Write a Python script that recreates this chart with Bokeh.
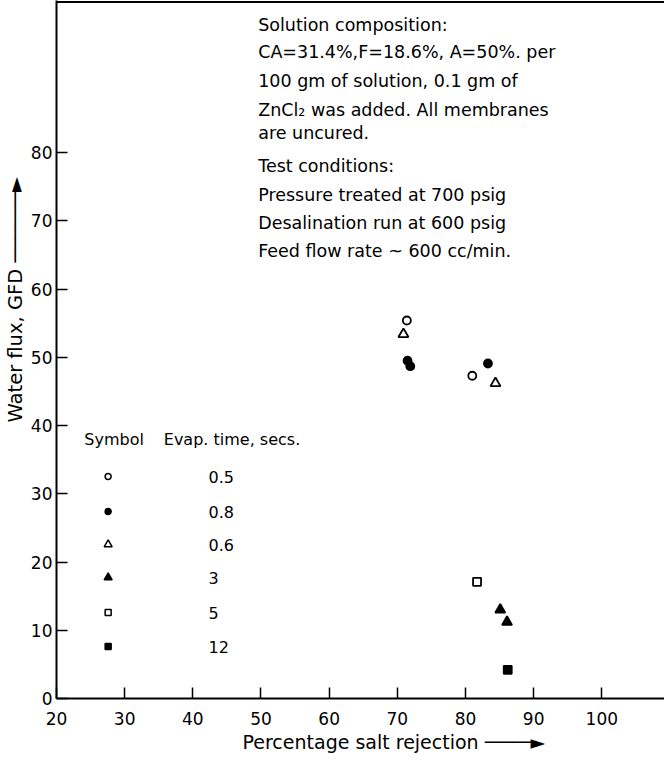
from bokeh.plotting import figure
from bokeh.models import Range1d, FixedTicker, Span, Title
from bokeh.embed import file_html
from bokeh.resources import INLINE
from bokeh.core.properties import value

FONT = "DejaVu Sans"

# ---------------- data ----------------
evap_labels = ["0.5", "0.8", "0.6", "3", "5", "12"]
marker_types = ["circle", "circle", "triangle", "triangle", "square", "square"]
marker_filled = [False, True, False, True, False, True]

rej_05 = [71.4, 81.0]
flux_05 = [55.4, 47.3]
rej_08 = [71.5, 71.9, 83.3]
flux_08 = [49.5, 48.7, 49.1]
rej_06 = [70.9, 84.4]
flux_06 = [53.4, 46.2]
rej_3 = [85.1, 86.1]
flux_3 = [13.0, 11.2]
rej_5 = [81.7]
flux_5 = [17.1]
rej_12 = [86.2]
flux_12 = [4.2]

series_x = [rej_05, rej_08, rej_06, rej_3, rej_5, rej_12]
series_y = [flux_05, flux_08, flux_06, flux_3, flux_5, flux_12]

x_ticks = [20, 30, 40, 50, 60, 70, 80, 90, 100]
y_ticks = [0, 10, 20, 30, 40, 50, 60, 70, 80]

x_title = "Percentage salt rejection \u2500\u2500\u2500\u2500\u25BA"
y_title = "Water flux, GFD \u2500\u2500\u2500\u2500\u2500\u2500\u25BA"
legend_head_1 = "Symbol"
legend_head_2 = "Evap. time, secs."

note_lines = [
    "Solution composition:",
    "CA=31.4%,F=18.6%, A=50%. per",
    "100 gm of solution, 0.1 gm of",
    "ZnCl\u2082 was added. All membranes",
    "are  uncured.",
    "Test conditions:",
    "Pressure treated at 700 psig",
    "Desalination run at 600 psig",
    "Feed flow rate ~ 600 cc/min.",
]

# ---------------- layout ----------------
X0, X1 = 20, 109.2
Y0, Y1 = 0, 102.3
FRAME_TOP_PAGE = 8.0
FRAME_BOTTOM_PAGE = 706.0
FRAME_LEFT_PAGE = 60.0
FRAME_RIGHT_PAGE = 672.0
PX_Y = (FRAME_BOTTOM_PAGE - FRAME_TOP_PAGE) / (Y1 - Y0)
PX_X = (FRAME_RIGHT_PAGE - FRAME_LEFT_PAGE) / (X1 - X0)


def dy(page_y):
    return Y1 - (page_y - FRAME_TOP_PAGE) / PX_Y


def dx(page_x):
    return X0 + (page_x - FRAME_LEFT_PAGE) / PX_X


p = figure(width=664, height=757, x_range=Range1d(X0, X1), y_range=Range1d(Y0, Y1),
           output_backend="svg", toolbar_location=None,
           min_border_left=52, min_border_right=0, min_border_top=0, min_border_bottom=59)
p.outline_line_color = None
p.grid.visible = False
p.background_fill_color = "white"
p.border_fill_color = "white"

for ax in (p.xaxis, p.yaxis):
    ax.axis_line_width = 2
    ax.axis_line_color = "black"
    ax.major_tick_in = 11
    ax.major_tick_out = 0
    ax.major_tick_line_width = 1.5
    ax.major_tick_line_color = "black"
    ax.minor_tick_line_color = None
    ax.major_label_text_font = FONT
    ax.major_label_text_font_size = "17px"
    ax.major_label_text_color = "black"

p.xaxis.ticker = FixedTicker(ticks=x_ticks)
p.yaxis.ticker = FixedTicker(ticks=y_ticks)
p.xaxis.major_label_standoff = 13
p.yaxis.major_label_standoff = 4

# axis titles with their arrows, as side-panel titles
p.add_layout(Title(text=x_title, align="left", offset=246 - FRAME_LEFT_PAGE, standoff=3,
                   text_font=FONT, text_font_size="19px", text_font_style="normal",
                   text_color="black"), "below")
p.add_layout(Title(text=y_title, align="left", offset=FRAME_BOTTOM_PAGE - 430, standoff=2,
                   text_font=FONT, text_font_size="19.5px", text_font_style="normal",
                   text_color="black"), "left")

# top border line
p.add_layout(Span(location=dy(9.5), dimension="width", line_color="black", line_width=2))

# data points
for xs, ys, mk, fl in zip(series_x, series_y, marker_types, marker_filled):
    size = 8 if mk != "triangle" else 10
    p.scatter(xs, ys, marker=mk, size=size, line_color="black", line_width=1.8,
              fill_color="black" if fl else "white")

# legend block
leg_rows_page = [484, 519, 552, 585, 620, 654]
for i, (lab, mk, fl) in enumerate(zip(evap_labels, marker_types, marker_filled)):
    yy = dy(leg_rows_page[i])
    size = 6 if mk != "triangle" else 8
    p.scatter([dx(112)], [yy], marker=mk, size=size, line_color="black", line_width=1.5,
              fill_color="black" if fl else "white")
    p.text([dx(213)], [yy], text=[lab], text_font=value(FONT), text_font_size="16px",
           text_baseline="middle", text_align="left", text_color="black")

p.text([dx(88)], [dy(447)], text=[legend_head_1], text_font=value(FONT), text_font_size="16px",
       text_baseline="middle", text_align="left", text_color="black")
p.text([dx(168)], [dy(447)], text=[legend_head_2], text_font=value(FONT), text_font_size="16px",
       text_baseline="middle", text_align="left", text_color="black")

# note block
note_page_y = [32, 59, 88, 117, 140, 173, 202, 230, 258]
p.text([dx(263)] * len(note_lines), [dy(v) for v in note_page_y], text=note_lines,
       text_font=value(FONT), text_font_size="17.5px", text_baseline="middle",
       text_align="left", text_color="black")

open("out.html", "w").write(file_html(p, INLINE))
